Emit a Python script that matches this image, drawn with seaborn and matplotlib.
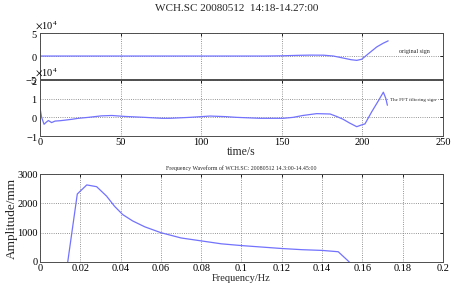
import numpy as np
import pandas as pd
import matplotlib
matplotlib.use("Agg")
import matplotlib.pyplot as plt
import seaborn as sns
from matplotlib.ticker import ScalarFormatter, MultipleLocator

# ---- data ----
orig_t = [0, 50, 100, 140, 150, 160, 168, 176, 182, 188, 193, 196.5, 199.6, 203.7, 209, 213, 216]
orig_v = [0, 0, 0, 0, 0.05, 0.15, 0.2, 0.18, 0.0, -0.43, -0.8, -0.94, -0.7, 0.5, 2.0, 2.8, 3.3]  # x1e4

filt_t = [0, 1, 2.5, 4, 5.2, 7.2, 9.3, 12.4, 15.5, 20, 23.8, 30, 38, 44.5, 52.7, 65, 75.5, 80.6,
          93, 105.5, 115, 122, 136.5, 151, 157, 163, 171.6, 180, 184, 188, 192, 196.5, 199,
          201.6, 205.8, 210, 213, 214.6, 215.5]
filt_v = [0.5, 0.0, -0.37, -0.25, -0.17, -0.28, -0.2, -0.18, -0.15, -0.1, -0.05, 0.0, 0.08, 0.1,
          0.05, 0.0, -0.05, -0.05, 0.0, 0.07, 0.04, 0.0, -0.05, -0.05, 0.0, 0.1, 0.2, 0.18, 0.05,
          -0.1, -0.3, -0.5, -0.42, -0.35, 0.3, 0.9, 1.35, 1.0, 0.65]  # x1e4

freq = [0.01375, 0.0185, 0.0232, 0.0281, 0.033, 0.037, 0.041, 0.046, 0.052, 0.06, 0.07, 0.08,
        0.09, 0.1, 0.11, 0.12, 0.13, 0.14, 0.148, 0.1535]
amp = [0, 2320, 2630, 2570, 2250, 1900, 1620, 1400, 1200, 1000, 820, 720, 620, 560, 510, 460,
       420, 395, 350, 0]

main_title = "WCH.SC 20080512  14:18-14.27:00"
sub_title = "Frequency Waveform of WCH.SC: 20080512 14.3:00-14.45:00"

sns.set_theme(style="white")
plt.rcParams["font.family"] = ["Liberation Serif", "DejaVu Serif"]
plt.rcParams["mathtext.fontset"] = "stix"

line_color = "#7272ff"
fs = 7.5

fig = plt.figure(figsize=(4.6, 2.96), dpi=100)
fig.patch.set_facecolor("white")

ax1 = fig.add_axes([0.087, 0.733, 0.876, 0.1554])
ax2 = fig.add_axes([0.087, 0.5405, 0.876, 0.189])
ax3 = fig.add_axes([0.087, 0.1149, 0.876, 0.297])

df1 = pd.DataFrame({"t": orig_t, "v": np.array(orig_v) * 1e4})
df2 = pd.DataFrame({"t": filt_t, "v": np.array(filt_v) * 1e4})
df3 = pd.DataFrame({"f": freq, "a": amp})

sns.lineplot(data=df1, x="t", y="v", ax=ax1, color=line_color, linewidth=0.9)
sns.lineplot(data=df2, x="t", y="v", ax=ax2, color=line_color, linewidth=0.9)
sns.lineplot(data=df3, x="f", y="a", ax=ax3, color=line_color, linewidth=0.9)

def style(ax):
    ax.grid(True, linestyle=":", color="0.45", linewidth=0.6)
    ax.tick_params(direction="in", length=2.5, width=0.6, top=True, right=True,
                   labelsize=fs, pad=1.5, colors="black")
    for s in ax.spines.values():
        s.set_color("0.3")
        s.set_linewidth(0.7)
    ax.set_xlabel("")
    ax.set_ylabel("")

for ax in (ax1, ax2, ax3):
    style(ax)

ax1.set_xlim(0, 250)
ax1.set_ylim(-5e4, 5e4)
ax1.xaxis.set_major_locator(MultipleLocator(50))
ax1.set_yticks([-5e4, 0, 5e4])
ax1.tick_params(labelbottom=False)
for ax in (ax1, ax2):
    fmt = ScalarFormatter(useMathText=True)
    fmt.set_powerlimits((0, 0))
    ax.yaxis.set_major_formatter(fmt)
    ax.yaxis.get_offset_text().set_fontsize(fs)
    ax.yaxis.get_offset_text().set_x(-0.012)

ax2.set_xlim(0, 250)
ax2.set_ylim(-1e4, 2e4)
ax2.xaxis.set_major_locator(MultipleLocator(50))
ax2.set_yticks([-1e4, 0, 1e4, 2e4])
ax2.set_xlabel("time/s", fontsize=8.5, labelpad=-1)

ax3.set_xlim(0, 0.2)
ax3.set_ylim(0, 3000)
ax3.set_xticks(np.arange(0, 0.201, 0.02))
ax3.set_xticklabels(["0", "0.02", "0.04", "0.06", "0.08", "0.1", "0.12", "0.14", "0.16", "0.18", "0.2"])
ax3.set_yticks([0, 1000, 2000, 3000])
ax3.set_xlabel("Frequency/Hz", fontsize=fs, labelpad=1)
ax3.set_ylabel("Amplitude/mm", fontsize=9.5, labelpad=0)
ax3.set_title(sub_title, fontsize=4.2, pad=3)

ax1.text(0.93, 0.6, "original sign", transform=ax1.transAxes, fontsize=4.3,
         ha="center", va="center",
         bbox=dict(facecolor="white", edgecolor="none", pad=0.5))
ax2.text(0.925, 0.64, "The FFT filtering sign", transform=ax2.transAxes, fontsize=3.7,
         ha="center", va="center",
         bbox=dict(facecolor="white", edgecolor="none", pad=0.3))

fig.text(0.515, 0.97, main_title, fontsize=8, ha="center", va="center")

fig.savefig("out.png", dpi=100, facecolor="white")
